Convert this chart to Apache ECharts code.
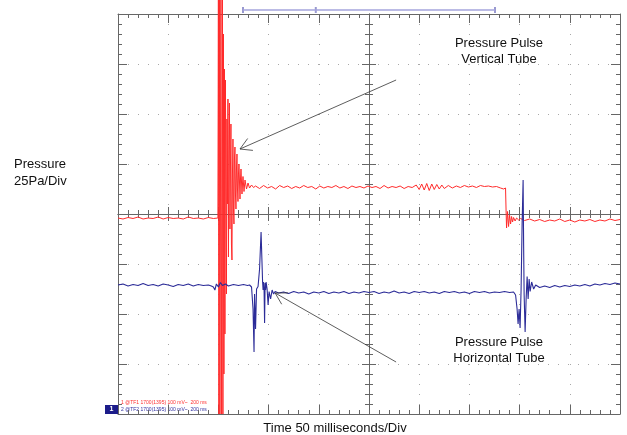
<!DOCTYPE html>
<html>
<head>
<meta charset="utf-8">
<script src="https://cdn.jsdelivr.net/npm/echarts@6/dist/echarts.min.js"></script>
<style>
  html, body { margin: 0; padding: 0; background: #fff; }
  #chart { width: 627px; height: 435px; }
</style>
</head>
<body>
<div id="chart"></div>
<script>
// scope screen: 10 divisions across, 8 divisions high, values in divisions
var xDivs = [0, 10];
var yDivs = [-4, 4];

// channel 1 - vertical tube (red)
var redTrace = [
  [0, -0.08], [0.1, -0.1], [0.2, -0.07], [0.3, -0.09], [0.4, -0.06], [0.5, -0.1],
  [0.6, -0.08], [0.7, -0.09], [0.8, -0.06], [0.9, -0.1], [1.0, -0.07], [1.1, -0.09],
  [1.2, -0.08], [1.3, -0.1], [1.4, -0.06], [1.5, -0.09], [1.6, -0.08], [1.7, -0.1],
  [1.8, -0.07], [1.9, -0.09], [1.99, -0.08],
  [2.00, 4.3], [2.01, -4.0], [2.02, 4.3], [2.03, -4.0], [2.05, 4.3], [2.06, -4.0],
  [2.08, 4.3], [2.09, -4.0], [2.10, 3.6], [2.11, -3.2], [2.12, 2.9], [2.13, -2.4],
  [2.14, 2.68], [2.16, -1.6], [2.17, 1.9], [2.18, 0.2], [2.19, 2.3], [2.20, -0.86],
  [2.21, 1.2], [2.22, 2.22], [2.23, -0.3], [2.24, 0.9], [2.25, 1.8], [2.26, -0.6],
  [2.27, -0.92], [2.28, 0.8], [2.29, 1.5], [2.30, 0.1], [2.31, -0.2], [2.32, 1.1],
  [2.33, 1.34], [2.34, 0.4], [2.35, 0.1], [2.36, 0.9], [2.37, 1.2], [2.38, 0.5],
  [2.39, 0.25], [2.40, 0.8], [2.41, 1.0], [2.43, 0.3], [2.44, 0.7], [2.45, 0.9],
  [2.47, 0.4], [2.48, 0.6], [2.49, 0.75], [2.51, 0.45], [2.53, 0.68], [2.56, 0.5],
  [2.59, 0.62], [2.62, 0.52], [2.66, 0.58], [2.70, 0.53],
  [2.74, 0.56], [2.82, 0.51], [2.90, 0.57], [2.98, 0.52], [3.06, 0.55], [3.14, 0.5],
  [3.22, 0.57], [3.30, 0.53], [3.38, 0.56], [3.46, 0.51], [3.54, 0.55], [3.62, 0.52],
  [3.70, 0.57], [3.78, 0.53], [3.86, 0.55], [3.94, 0.5], [4.02, 0.56], [4.10, 0.52],
  [4.18, 0.55], [4.26, 0.53], [4.34, 0.57], [4.42, 0.52], [4.50, 0.55], [4.58, 0.51],
  [4.66, 0.56], [4.74, 0.53], [4.82, 0.55], [4.90, 0.52], [4.98, 0.56], [5.06, 0.53],
  [5.14, 0.55], [5.22, 0.51], [5.30, 0.57], [5.38, 0.52], [5.46, 0.55], [5.54, 0.53],
  [5.62, 0.56], [5.70, 0.51], [5.78, 0.55], [5.86, 0.53], [5.94, 0.58], [6.00, 0.49],
  [6.05, 0.6], [6.10, 0.48], [6.15, 0.61], [6.20, 0.47], [6.25, 0.6], [6.30, 0.49],
  [6.35, 0.59], [6.40, 0.5], [6.45, 0.58], [6.50, 0.51], [6.58, 0.57], [6.66, 0.52],
  [6.74, 0.56], [6.82, 0.53], [6.90, 0.57], [6.98, 0.54], [7.06, 0.56], [7.14, 0.53],
  [7.22, 0.57], [7.30, 0.55], [7.38, 0.56], [7.46, 0.54], [7.54, 0.55], [7.62, 0.52],
  [7.68, 0.5], [7.72, 0.52],
  [7.73, 0.1], [7.74, -0.28], [7.76, 0.05], [7.78, -0.25], [7.80, -0.02], [7.82, -0.2],
  [7.84, -0.05], [7.86, -0.16], [7.88, -0.07], [7.91, -0.14], [7.94, -0.08], [7.98, -0.12],
  [8.02, -0.09], [8.1, -0.13], [8.2, -0.1], [8.3, -0.14], [8.4, -0.11], [8.5, -0.15],
  [8.6, -0.12], [8.7, -0.14], [8.8, -0.1], [8.9, -0.15], [9.0, -0.12], [9.1, -0.16],
  [9.2, -0.12], [9.3, -0.14], [9.4, -0.11], [9.5, -0.15], [9.6, -0.12], [9.7, -0.14],
  [9.8, -0.1], [9.9, -0.13], [10, -0.11]
];

// channel 2 - horizontal tube (blue)
var blueTrace = [
  [0, -1.42], [0.1, -1.4], [0.2, -1.44], [0.3, -1.41], [0.4, -1.43], [0.5, -1.39],
  [0.6, -1.43], [0.7, -1.41], [0.8, -1.44], [0.9, -1.4], [1.0, -1.42], [1.1, -1.45],
  [1.2, -1.41], [1.3, -1.43], [1.4, -1.4], [1.5, -1.44], [1.6, -1.41], [1.7, -1.43],
  [1.8, -1.42], [1.86, -1.44], [1.90, -1.46], [1.93, -1.52], [1.96, -1.4], [2.00, -1.46],
  [2.04, -1.37], [2.08, -1.43], [2.14, -1.4], [2.2, -1.44], [2.3, -1.41], [2.4, -1.43],
  [2.5, -1.41], [2.58, -1.43], [2.62, -1.42], [2.66, -1.46],
  [2.69, -1.9], [2.71, -2.76], [2.72, -1.6], [2.74, -2.3], [2.76, -1.5], [2.79, -1.45],
  [2.82, -1.1], [2.85, -0.36], [2.87, -0.4], [2.88, -1.35], [2.89, -1.52], [2.90, -1.36],
  [2.91, -1.52], [2.92, -2.18], [2.93, -1.38], [2.94, -1.52], [2.95, -1.36], [2.97, -1.5],
  [2.99, -1.82], [3.01, -1.55], [3.04, -1.7], [3.07, -1.52], [3.10, -1.6], [3.13, -1.55],
  [3.2, -1.58], [3.3, -1.56], [3.4, -1.59], [3.5, -1.55], [3.6, -1.58], [3.7, -1.56],
  [3.8, -1.6], [3.9, -1.56], [4.0, -1.58], [4.1, -1.55], [4.2, -1.59], [4.3, -1.56],
  [4.4, -1.58], [4.5, -1.55], [4.6, -1.59], [4.7, -1.56], [4.8, -1.58], [4.9, -1.55],
  [5.0, -1.57], [5.1, -1.55], [5.2, -1.59], [5.3, -1.56], [5.4, -1.58], [5.5, -1.54],
  [5.6, -1.58], [5.7, -1.56], [5.8, -1.59], [5.9, -1.55], [6.0, -1.57], [6.1, -1.55],
  [6.2, -1.58], [6.3, -1.56], [6.4, -1.59], [6.5, -1.55], [6.6, -1.57], [6.7, -1.55],
  [6.8, -1.58], [6.9, -1.56], [7.0, -1.59], [7.1, -1.55], [7.2, -1.57], [7.3, -1.55],
  [7.4, -1.58], [7.5, -1.56], [7.6, -1.57], [7.7, -1.55], [7.8, -1.57], [7.88, -1.56],
  [7.92, -1.62], [7.95, -1.9], [7.97, -2.2], [7.99, -1.9], [8.01, -2.28], [8.03, -1.5],
  [8.05, -0.2], [8.07, 0.68], [8.08, -0.6], [8.09, -1.6], [8.11, -2.36], [8.13, -1.7],
  [8.15, -1.25], [8.17, -1.7], [8.19, -1.3], [8.21, -1.55], [8.24, -1.36], [8.28, -1.5],
  [8.32, -1.42], [8.4, -1.47], [8.5, -1.44], [8.6, -1.47], [8.7, -1.43], [8.8, -1.46],
  [8.9, -1.43], [9.0, -1.45], [9.1, -1.42], [9.2, -1.44], [9.3, -1.41], [9.4, -1.44],
  [9.5, -1.4], [9.6, -1.42], [9.7, -1.39], [9.8, -1.41], [9.9, -1.38], [10, -1.4]
];

// record-window indicator above the screen
var windowBar = [[2.49, 0.5], [7.51, 0.5]];
var windowMarks = [[2.49, 0.5], [3.94, 0.5], [7.51, 0.5]];

// annotation arrows, tail -> tip, in divisions
var vertArrow = [[5.54, 2.68], [2.43, 1.30]];
var horzArrow = [[5.54, -2.96], [3.13, -1.58]];

var frameColor = '#666';

function scopeAxis(dim, pos, offset, inside, split) {
  var ax = {
    type: 'value',
    gridIndex: 0,
    position: pos,
    offset: offset,
    min: dim === 'x' ? xDivs[0] : yDivs[0],
    max: dim === 'x' ? xDivs[1] : yDivs[1],
    interval: 1,
    axisLine: { show: true, onZero: false, lineStyle: { color: frameColor, width: 1 } },
    axisTick: { show: true, inside: inside, length: inside ? 9 : 7, lineStyle: { color: frameColor } },
    minorTick: { show: true, splitNumber: 5, length: 4, lineStyle: { color: frameColor } },
    axisLabel: { show: false },
    splitLine: { show: false }
  };
  if (split) {
    ax.splitLine = { show: true, lineStyle: { color: '#a8a8a8', type: [1, 9], width: 1 } };
  }
  return ax;
}

var chart = echarts.init(document.getElementById('chart'), null, { renderer: 'canvas' });

var option = {
  animation: false,
  backgroundColor: '#fff',
  grid: [
    { left: 118, top: 14, width: 502, height: 400, show: false },
    { left: 118, top: 6, width: 502, height: 8, show: false }
  ],
  xAxis: [
    scopeAxis('x', 'bottom', 0, true, true),
    scopeAxis('x', 'top', 0, true, false),
    scopeAxis('x', 'bottom', -200, false, false),
    scopeAxis('x', 'top', -200, false, false),
    { type: 'value', gridIndex: 1, min: xDivs[0], max: xDivs[1], show: false }
  ],
  yAxis: [
    scopeAxis('y', 'left', 0, true, true),
    scopeAxis('y', 'right', 0, true, false),
    scopeAxis('y', 'left', -251, false, false),
    scopeAxis('y', 'right', -251, false, false),
    { type: 'value', gridIndex: 1, min: 0, max: 1, show: false }
  ],
  series: [
    {
      name: 'Vertical Tube', type: 'line', xAxisIndex: 0, yAxisIndex: 0,
      data: redTrace, showSymbol: false, clip: false,
      lineStyle: { color: '#ff2b2b', width: 1 }
    },
    {
      name: 'Horizontal Tube', type: 'line', xAxisIndex: 0, yAxisIndex: 0,
      data: blueTrace, showSymbol: false, clip: true,
      lineStyle: { color: '#2c2c98', width: 1.1 }
    },
    {
      type: 'line', xAxisIndex: 4, yAxisIndex: 4, data: windowBar, showSymbol: false,
      lineStyle: { color: '#a4a4dc', width: 1.5 }
    },
    {
      type: 'scatter', xAxisIndex: 4, yAxisIndex: 4, data: windowMarks,
      symbol: 'rect', symbolSize: [2, 6], itemStyle: { color: '#8080c4' }
    }
  ]
};
chart.setOption(option);

function toPx(p) {
  return chart.convertToPixel({ xAxisIndex: 0, yAxisIndex: 0 }, p);
}

function arrowShapes(pair) {
  var a = toPx(pair[0]);
  var b = toPx(pair[1]);
  var ang = Math.atan2(a[1] - b[1], a[0] - b[0]);
  var len = 13, spread = Math.PI / 6;
  var h1 = [b[0] + len * Math.cos(ang - spread), b[1] + len * Math.sin(ang - spread)];
  var h2 = [b[0] + len * Math.cos(ang + spread), b[1] + len * Math.sin(ang + spread)];
  var st = { stroke: '#333', lineWidth: 0.8, fill: null };
  return [
    { type: 'line', shape: { x1: a[0], y1: a[1], x2: b[0], y2: b[1] }, style: st, z: 50 },
    { type: 'polyline', shape: { points: [h1, b, h2] }, style: st, z: 50 }
  ];
}

var font = '"Liberation Sans", Arial, sans-serif';
var labels = [
  { type: 'text', left: 14, top: 156, style: { text: 'Pressure\n25Pa/Div', font: '13px ' + font, fill: '#111', lineHeight: 17 } },
  { type: 'text', x: 499, y: 51, style: { text: 'Pressure Pulse\nVertical Tube', font: '13px ' + font, fill: '#111', lineHeight: 16, align: 'center', verticalAlign: 'middle' } },
  { type: 'text', x: 499, y: 350, style: { text: 'Pressure Pulse\nHorizontal Tube', font: '13px ' + font, fill: '#111', lineHeight: 16, align: 'center', verticalAlign: 'middle' } },
  { type: 'text', x: 335, y: 428, style: { text: 'Time 50 milliseconds/Div', font: '13px ' + font, fill: '#111', align: 'center', verticalAlign: 'middle' } },
  { type: 'rect', shape: { x: 105, y: 405, width: 13, height: 9 }, style: { fill: '#1c1c8a' } },
  { type: 'text', x: 111.5, y: 409.5, style: { text: '1', font: 'bold 7px ' + font, fill: '#fff', align: 'center', verticalAlign: 'middle' } },
  { type: 'text', x: 121, y: 403, style: { text: '1 @TF1 1700(1395) 100 mV~  200 ms', font: '5px ' + font, fill: '#ff3030', verticalAlign: 'middle' } },
  { type: 'text', x: 121, y: 410, style: { text: '2 @TF2 1700(1395) 100 mV~  200 ms', font: '5px ' + font, fill: '#3030a0', verticalAlign: 'middle' } }
];

chart.setOption({
  graphic: labels.concat(arrowShapes(vertArrow), arrowShapes(horzArrow))
});
</script>
</body>
</html>
